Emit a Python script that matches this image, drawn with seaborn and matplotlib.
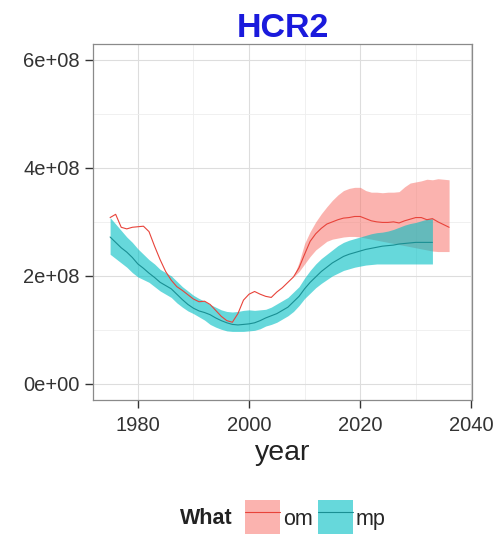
import numpy as np
import pandas as pd
import matplotlib
matplotlib.use("Agg")
import matplotlib.pyplot as plt
import seaborn as sns
from matplotlib.patches import Patch
from matplotlib.lines import Line2D

# ---------------- data ----------------
om_years = list(range(1975, 2037))
om_mean = [3.08, 3.14, 2.90, 2.87, 2.90, 2.91, 2.92, 2.82, 2.55, 2.30,
           2.08, 1.92, 1.80, 1.73, 1.65, 1.57, 1.52, 1.53, 1.47, 1.36,
           1.25, 1.17, 1.14, 1.30, 1.55, 1.66, 1.71, 1.66, 1.62, 1.60,
           1.70, 1.78, 1.88, 1.98, 2.15, 2.40, 2.64, 2.78, 2.88, 2.96,
           3.00, 3.04, 3.07, 3.08, 3.10, 3.10, 3.06, 3.02, 3.00, 2.99,
           2.99, 3.00, 2.98, 3.02, 3.05, 3.08, 3.08, 3.04, 3.06, 3.00,
           2.95, 2.90]
# ribbon for om (only projected part has spread)
om_band_years = list(range(2008, 2037))
om_upper = [1.98, 2.25, 2.60, 2.82, 3.00, 3.15, 3.28, 3.40, 3.50, 3.58,
            3.62, 3.64, 3.64, 3.58, 3.55, 3.55, 3.54, 3.55, 3.55, 3.56,
            3.65, 3.72, 3.74, 3.76, 3.79, 3.78, 3.80, 3.79, 3.78]
om_lower = [1.98, 2.08, 2.22, 2.36, 2.48, 2.56, 2.64, 2.68, 2.70, 2.72,
            2.73, 2.73, 2.72, 2.70, 2.68, 2.66, 2.64, 2.62, 2.60, 2.58,
            2.56, 2.54, 2.52, 2.50, 2.48, 2.46, 2.45, 2.45, 2.45]

mp_years = list(range(1975, 2034))
mp_mean = [2.72, 2.62, 2.52, 2.44, 2.34, 2.22, 2.14, 2.05, 1.97, 1.88,
           1.82, 1.76, 1.66, 1.56, 1.47, 1.40, 1.35, 1.32, 1.28, 1.22,
           1.17, 1.13, 1.10, 1.09, 1.10, 1.11, 1.13, 1.17, 1.22, 1.26,
           1.30, 1.36, 1.42, 1.52, 1.62, 1.76, 1.88, 1.98, 2.08, 2.16,
           2.24, 2.30, 2.36, 2.40, 2.43, 2.46, 2.49, 2.51, 2.53, 2.55,
           2.56, 2.57, 2.59, 2.60, 2.61, 2.62, 2.62, 2.62, 2.62]
mp_upper = [3.08, 2.96, 2.84, 2.72, 2.62, 2.50, 2.40, 2.30, 2.22, 2.12,
            2.06, 2.00, 1.90, 1.80, 1.72, 1.64, 1.58, 1.53, 1.47, 1.42,
            1.37, 1.34, 1.33, 1.34, 1.36, 1.37, 1.36, 1.37, 1.38, 1.42,
            1.48, 1.54, 1.60, 1.70, 1.80, 1.96, 2.10, 2.22, 2.32, 2.40,
            2.48, 2.56, 2.62, 2.66, 2.69, 2.72, 2.75, 2.78, 2.80, 2.81,
            2.83, 2.86, 2.90, 2.94, 2.97, 2.99, 3.02, 3.05, 3.06]
mp_lower = [2.40, 2.32, 2.24, 2.16, 2.06, 1.98, 1.93, 1.88, 1.80, 1.72,
            1.66, 1.60, 1.50, 1.42, 1.35, 1.30, 1.24, 1.18, 1.10, 1.05,
            1.01, 0.98, 0.97, 0.97, 0.97, 0.98, 0.99, 1.02, 1.07, 1.10,
            1.14, 1.20, 1.26, 1.34, 1.45, 1.58, 1.68, 1.78, 1.86, 1.93,
            2.00, 2.05, 2.10, 2.13, 2.16, 2.18, 2.20, 2.21, 2.22, 2.22,
            2.22, 2.22, 2.22, 2.22, 2.22, 2.22, 2.22, 2.22, 2.22]

SCALE = 1e8
x_ticks = [1980, 2000, 2020, 2040]
y_ticks = [0, 2e8, 4e8, 6e8]
y_tick_labels = ["0e+00", "2e+08", "4e+08", "6e+08"]
title = "HCR2"
x_label = "year"
legend_title = "What"
groups = ["om", "mp"]

col_om = "#F8766D"
col_mp = "#00BFC4"
line_om = "#E8433A"
line_mp = "#1A8F93"

# ---------------- build frames ----------------
df_line = pd.concat([
    pd.DataFrame({"year": om_years, "value": np.array(om_mean) * SCALE, "What": "om"}),
    pd.DataFrame({"year": mp_years, "value": np.array(mp_mean) * SCALE, "What": "mp"}),
])

# ---------------- plot ----------------
sns.set_theme(style="white")
plt.rcParams["font.family"] = ["Liberation Sans", "DejaVu Sans"]

fig = plt.figure(figsize=(5.02, 5.34), dpi=100)
ax = fig.add_axes([0.185, 0.251, 0.755, 0.667])
ax.set_facecolor("white")

ax.fill_between(om_band_years, np.array(om_lower) * SCALE, np.array(om_upper) * SCALE,
                color=col_om, alpha=0.55, linewidth=0, zorder=2)
ax.fill_between(mp_years, np.array(mp_lower) * SCALE, np.array(mp_upper) * SCALE,
                color=col_mp, alpha=0.6, linewidth=0, zorder=3)

sns.lineplot(data=df_line, x="year", y="value", hue="What",
             palette={"om": line_om, "mp": line_mp}, linewidth=0.8,
             legend=False, ax=ax, zorder=4)

ax.set_xlim(1971.9, 2040.1)
ax.set_ylim(-0.3e8, 6.3e8)
ax.set_xticks(x_ticks)
ax.set_yticks(y_ticks)
ax.set_yticklabels(y_tick_labels)
ax.set_xticks([1990, 2010, 2030], minor=True)
ax.set_yticks([1e8, 3e8, 5e8], minor=True)
ax.grid(True, which="major", color="#DDDDDD", linewidth=0.8, zorder=0)
ax.grid(True, which="minor", color="#EEEEEE", linewidth=0.6, zorder=0)
ax.set_axisbelow(True)

for s in ax.spines.values():
    s.set_color("#8A8A8A")
    s.set_linewidth(0.9)

ax.tick_params(axis="both", which="major", direction="out", length=5.5, width=1,
               color="#333333", labelsize=14.5, labelcolor="#333333",
               bottom=True, left=True)
ax.tick_params(axis="x", which="major", pad=6)
ax.tick_params(axis="y", which="major", pad=4)
ax.tick_params(axis="both", which="minor", length=0)

ax.set_xlabel("")
ax.set_ylabel("")
fig.text(0.5627, 1 - 460 / 534, x_label, fontsize=20.5, color="#222222",
         ha="center", va="baseline")
fig.text(0.5627, 1 - 37 / 534, title, fontsize=24.5, fontweight="bold",
         color="#1A1ADC", ha="center", va="baseline")

# legend at bottom
fig.text(233 / 502, 1 - 518 / 534, legend_title, fontsize=15.5, fontweight="bold",
         color="#222222", ha="right", va="center")
h_om = (Patch(facecolor=col_om, alpha=0.55, edgecolor="none"),
        Line2D([0], [0], color=line_om, linewidth=0.8))
h_mp = (Patch(facecolor=col_mp, alpha=0.6, edgecolor="none"),
        Line2D([0], [0], color=line_mp, linewidth=0.8))
leg = fig.legend([h_om, h_mp], groups, loc="center left",
                 bbox_to_anchor=(245 / 502, 1 - 518 / 534), ncol=2, frameon=False,
                 fontsize=15.5, handlelength=1.63, handleheight=2.2,
                 handletextpad=0.14, columnspacing=0.23, borderaxespad=0,
                 borderpad=0)

fig.savefig("out.png", dpi=100, facecolor="white")
